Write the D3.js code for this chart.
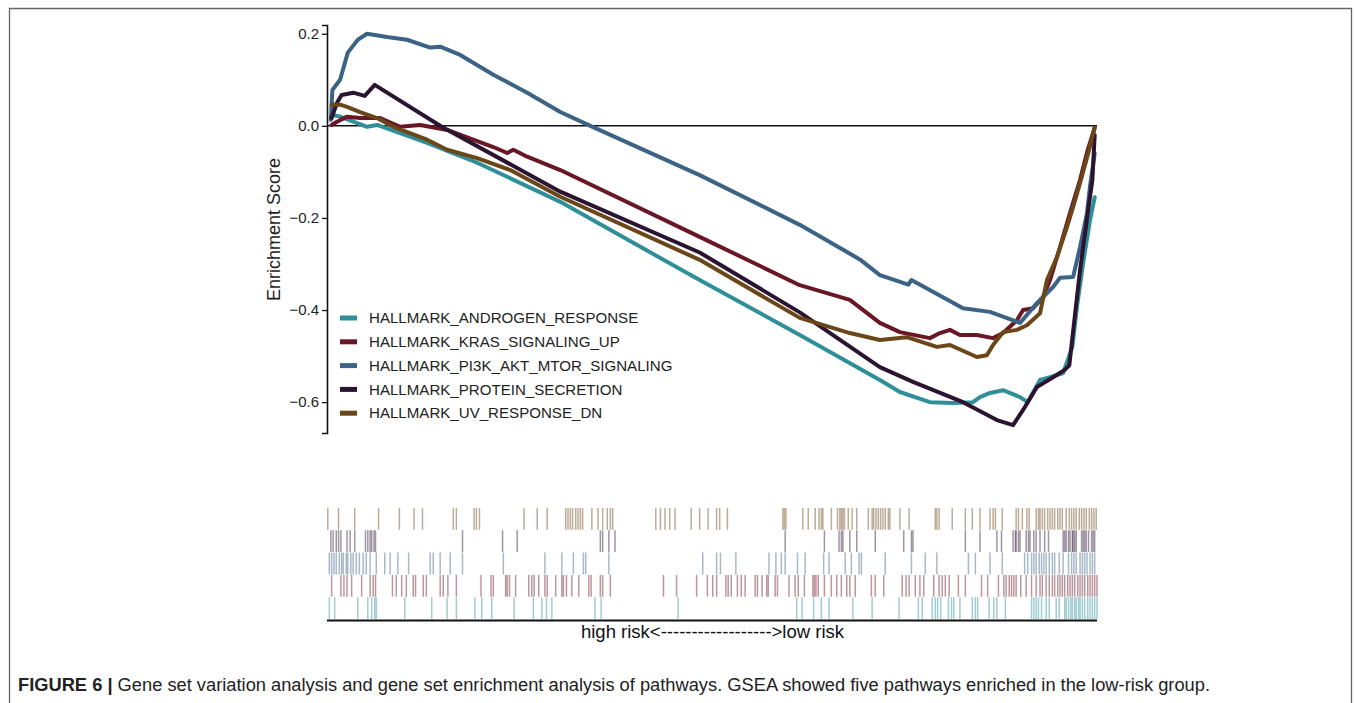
<!DOCTYPE html>
<html>
<head>
<meta charset="utf-8">
<script src="https://cdn.jsdelivr.net/npm/d3@7"></script>
<style>
  body { margin: 0; background: #fff; }
  svg { display: block; }
  text { font-family: "Liberation Sans", Arial, Helvetica, sans-serif; }
</style>
</head>
<body>
<svg id="chart" width="1355" height="703"></svg>
<script>
// Gene sets, in legend order
const pathways = [
  "HALLMARK_ANDROGEN_RESPONSE",
  "HALLMARK_KRAS_SIGNALING_UP",
  "HALLMARK_PI3K_AKT_MTOR_SIGNALING",
  "HALLMARK_PROTEIN_SECRETION",
  "HALLMARK_UV_RESPONSE_DN"
];
const pathwayColors = ["#2f8f99", "#6a1725", "#3c6385", "#2a1430", "#6b4618"];

const yTicks = [0.2, 0.0, -0.2, -0.4, -0.6];
const yLabel = "Enrichment Score";
const xLabel = "high risk<------------------>low risk";
const captionBold = "FIGURE 6 |";
const captionText = " Gene set variation analysis and gene set enrichment analysis of pathways. GSEA showed five pathways enriched in the low-risk group.";

// Running enrichment score: [position in ranked list (%), ES]
const androgenES = [[0.6,0.024],[1.7,0.02],[5.2,-0.002],[6.5,0.002],[13.0,-0.037],[19.5,-0.08],[30.3,-0.165],
  [48.4,-0.335],[61.4,-0.454],[71.8,-0.552],[74.4,-0.578],[78.3,-0.6],[81.3,-0.602],[83.9,-0.6],[84.8,-0.589],
  [86.1,-0.58],[87.8,-0.574],[90.0,-0.589],[91.0,-0.6],[92.6,-0.552],[93.9,-0.546],[95.6,-0.537],[96.8,-0.48],
  [97.4,-0.393],[98.2,-0.298],[99.1,-0.204],[99.7,-0.155]];
const krasES = [[0.6,0.002],[1.3,0.009],[2.6,0.02],[4.3,0.017],[6.9,0.017],[9.5,-0.002],[12.1,0.002],[15.6,-0.009],
  [21.6,-0.046],[23.4,-0.059],[24.2,-0.052],[26.0,-0.067],[30.3,-0.096],[48.4,-0.241],[61.4,-0.346],[67.9,-0.378],
  [71.8,-0.428],[74.4,-0.448],[78.3,-0.461],[79.6,-0.45],[80.9,-0.443],[82.2,-0.454],[84.4,-0.454],[86.5,-0.461],
  [87.8,-0.45],[89.6,-0.422],[90.4,-0.4],[91.7,-0.396],[93.0,-0.372],[93.9,-0.335],[95.2,-0.263],[96.5,-0.189],
  [97.8,-0.117],[98.8,-0.052],[99.7,-0.004]];
const pi3kES = [[0.5,0.013],[0.7,0.078],[1.7,0.1],[2.7,0.159],[4.0,0.187],[5.2,0.2],[7.8,0.193],[10.4,0.187],
  [13.4,0.17],[14.7,0.172],[17.3,0.154],[21.6,0.111],[26.0,0.072],[30.3,0.03],[34.2,0.0],[48.4,-0.107],
  [61.4,-0.215],[69.2,-0.29],[71.8,-0.324],[75.5,-0.345],[75.9,-0.335],[82.6,-0.396],[86.1,-0.404],[90.0,-0.428],
  [92.2,-0.385],[94.3,-0.35],[95.2,-0.33],[96.9,-0.328],[97.8,-0.263],[98.7,-0.19],[99.1,-0.13],[99.7,-0.06]];
const proteinES = [[0.6,0.017],[1.3,0.05],[1.9,0.067],[3.4,0.072],[4.9,0.065],[6.2,0.089],[14.9,-0.002],
  [30.3,-0.143],[48.4,-0.275],[61.4,-0.405],[71.8,-0.524],[76.1,-0.556],[82.6,-0.6],[87.0,-0.639],[89.1,-0.65],
  [90.4,-0.617],[92.2,-0.567],[94.3,-0.546],[95.8,-0.53],[96.4,-0.52],[97.8,-0.313],[98.8,-0.19],[99.4,-0.117],
  [99.7,-0.02]];
const uvES = [[0.6,0.046],[1.7,0.046],[2.6,0.041],[4.3,0.03],[6.5,0.017],[8.6,-0.002],[13.0,-0.03],[15.6,-0.052],
  [19.5,-0.07],[23.8,-0.096],[30.3,-0.154],[48.4,-0.291],[61.4,-0.417],[67.9,-0.45],[71.8,-0.465],[75.3,-0.459],
  [79.2,-0.48],[80.9,-0.476],[84.4,-0.502],[85.7,-0.498],[86.5,-0.476],[87.8,-0.448],[89.6,-0.443],[90.9,-0.433],
  [92.6,-0.407],[93.5,-0.335],[94.8,-0.285],[96.1,-0.22],[96.9,-0.176],[97.8,-0.124],[98.8,-0.063],[99.7,-0.004]];

// Positions (%) of gene-set members in the ranked list
const androgenHits = [0.3,1.0,4.0,5.3,5.8,6.2,6.4,10.1,13.6,15.6,16.8,19.2,20.1,21.4,24.3,26.8,27.9,28.5,29.2,34.8,
  35.6,45.6,61.0,61.7,63.2,64.2,65.2,68.3,70.8,74.3,76.8,77.3,78.6,79.0,79.3,79.7,80.7,81.1,81.4,82.2,83.8,84.2,
  84.5,86.0,86.6,87.0,88.1,91.5,91.8,92.1,92.4,92.8,93.4,93.8,94.7,95.1,95.8,96.0,96.3,96.6,96.8,97.1,97.3,97.6,
  97.8,98.1,98.4,98.8,99.1,99.4,99.7,100];
const krasHits = [0.6,1.8,2.2,2.6,3.2,4.5,5.6,6.0,6.3,8.5,9.0,9.7,10.3,11.2,11.5,12.5,12.9,14.7,15.1,15.7,16.8,
  20.0,21.3,21.6,23.2,23.4,23.7,24.5,26.2,26.6,26.9,27.5,28.3,28.6,29.7,30.5,30.7,31.1,31.8,32.7,34.0,34.3,35.5,
  35.8,36.8,43.7,45.4,48.0,49.4,50.1,50.6,51.8,52.1,52.5,53.3,53.8,54.3,55.6,55.9,56.5,57.1,57.3,58.2,58.5,60.0,
  60.8,61.2,62.0,63.1,63.3,63.5,63.8,64.6,65.5,66.2,66.8,67.5,67.9,68.6,70.7,71.2,72.3,74.7,75.2,75.6,76.4,77.0,
  77.5,78.8,79.5,79.9,80.3,80.8,82.0,82.9,85.0,85.8,87.2,87.9,88.2,88.6,88.9,89.2,89.5,90.1,90.8,91.5,92.1,92.6,
  92.9,93.4,93.8,94.2,94.5,94.9,95.2,95.5,95.8,96.2,96.5,96.8,97.1,97.5,97.8,98.1,98.4,98.8,99.1,99.4,99.7,100];
const pi3kHits = [0.3,0.6,0.9,1.2,1.6,1.9,2.1,2.5,2.7,3.1,3.4,3.8,4.2,4.7,5.1,5.6,6.4,7.5,8.2,9.2,10.6,13.4,13.8,
  14.7,16.0,17.6,22.9,28.3,30.5,32.0,33.3,33.6,36.6,48.8,50.6,51.1,53.1,57.4,58.3,59.0,59.5,61.1,62.1,64.5,65.2,
  67.3,68.1,69.1,69.4,72.5,75.9,77.7,79.2,83.3,84.2,86.1,87.7,90.6,91.0,91.5,91.8,92.1,92.5,92.8,93.1,93.4,93.8,
  94.2,94.5,95.1,95.6,96.3,96.7,97.0,97.3,97.8,98.1,98.4,98.7,99.1,99.4,99.7];
const proteinHits = [0.5,0.8,1.2,1.5,1.8,2.6,3.0,3.6,5.0,5.3,5.6,5.8,6.1,6.3,17.6,22.8,24.7,35.5,35.8,36.6,37.4,
  59.5,64.6,66.5,66.8,67.0,67.9,68.8,71.2,74.9,75.9,76.1,82.9,84.8,87.0,87.6,89.1,89.4,89.5,89.8,90.0,90.8,91.1,
  91.3,91.8,92.1,92.6,93.2,93.7,95.6,95.8,96.0,96.3,96.5,96.8,96.9,97.1,97.3,98.0,98.2,98.4,98.6,98.9,99.3,99.5,99.7];
const uvHits = [0.1,1.5,3.6,6.7,9.4,11.3,12.4,16.4,16.8,19.1,19.4,19.8,25.6,27.3,28.6,31.0,31.3,31.6,31.9,32.3,32.6,
  32.9,33.2,34.4,35.2,35.8,36.4,36.8,37.1,42.7,43.3,43.9,44.5,45.2,47.3,48.4,49.5,50.6,51.0,52.0,59.2,59.4,59.6,
  61.8,62.5,63.4,63.9,64.2,64.4,65.5,66.3,66.6,66.8,67.0,67.2,67.7,68.2,68.8,70.3,70.8,71.0,71.3,71.6,71.9,72.2,
  72.5,72.9,73.1,74.4,75.6,79.0,79.2,79.5,81.2,82.9,83.8,84.8,86.1,86.5,86.8,87.7,89.5,89.8,90.3,90.9,91.2,92.1,
  92.4,92.6,92.9,93.2,93.6,93.9,94.2,94.5,94.9,95.2,95.5,96.0,96.4,96.7,97.0,97.3,97.7,98.0,98.3,98.6,99.0,99.3,
  99.6,99.9];

const esSeries = [androgenES, krasES, pi3kES, proteinES, uvES];
const hitSeries = [androgenHits, krasHits, pi3kHits, proteinHits, uvHits];

const svg = d3.select("#chart");

// Figure frame
svg.append("path")
  .attr("d", "M9.5,710 V8.5 H1351.5 V710")
  .attr("fill", "none").attr("stroke", "#666").attr("stroke-width", 1.3);

// Scales
const x = d3.scaleLinear().domain([0, 100]).range([327, 1097]);
const y = d3.scaleLinear().domain([-0.667, 0.219]).range([433, 25]);

// Y axis
const yAxis = svg.append("g")
  .attr("transform", `translate(${x(0)},0)`)
  .call(d3.axisLeft(y).tickValues(yTicks).tickSize(5).tickPadding(3).tickFormat(d3.format(".1f")));
yAxis.select(".domain").attr("stroke", "#111").attr("stroke-width", 1.6);
yAxis.selectAll(".tick line").attr("stroke", "#111").attr("stroke-width", 1.3);
yAxis.selectAll(".tick text").attr("font-size", 15).attr("fill", "#222")
  .attr("font-family", "'Liberation Sans', Arial, sans-serif");

svg.append("text")
  .attr("transform", `translate(280,${y(-0.225)}) rotate(-90)`)
  .attr("text-anchor", "middle")
  .attr("font-size", 18).attr("fill", "#222")
  .text(yLabel);

// Zero reference line
svg.append("line")
  .attr("x1", x(0)).attr("x2", x(100))
  .attr("y1", y(0)).attr("y2", y(0))
  .attr("stroke", "#111").attr("stroke-width", 1.5);

// Running enrichment score curves
const line = d3.line().x(d => x(d[0])).y(d => y(d[1]));
svg.append("g").selectAll("path")
  .data(esSeries)
  .join("path")
  .attr("d", line)
  .attr("fill", "none")
  .attr("stroke", (d, i) => pathwayColors[i])
  .attr("stroke-width", 4)
  .attr("stroke-linejoin", "round")
  .attr("stroke-linecap", "round");

// Legend
const legend = svg.append("g");
pathways.forEach((name, i) => {
  const ly = 318 + i * 23.8;
  legend.append("line")
    .attr("x1", 340).attr("x2", 357).attr("y1", ly).attr("y2", ly)
    .attr("stroke", pathwayColors[i]).attr("stroke-width", 5);
  legend.append("text")
    .attr("x", 369).attr("y", ly).attr("dy", "0.35em")
    .attr("font-size", 15.1).attr("fill", "#222")
    .text(name);
});

// Hit rug: one row per gene set, top row is the last set
const rowTop = 508, rowH = 22.3;
const rug = svg.append("g");
hitSeries.forEach((hits, i) => {
  const row = pathways.length - 1 - i;
  const y0 = rowTop + row * rowH;
  rug.append("g").selectAll("line")
    .data(hits)
    .join("line")
    .attr("x1", d => x(d)).attr("x2", d => x(d))
    .attr("y1", y0).attr("y2", y0 + rowH - 0.5)
    .attr("stroke", pathwayColors[i])
    .attr("stroke-opacity", 0.45)
    .attr("stroke-width", 1.5);
});

// Bottom axis line of the rug
svg.append("line")
  .attr("x1", x(0)).attr("x2", x(100))
  .attr("y1", 620.5).attr("y2", 620.5)
  .attr("stroke", "#111").attr("stroke-width", 2.2);

svg.append("text")
  .attr("x", (x(0) + x(100)) / 2 + 0.5).attr("y", 638)
  .attr("text-anchor", "middle")
  .attr("font-size", 18.5).attr("fill", "#111")
  .text(xLabel);

// Caption
const cap = svg.append("text")
  .attr("x", 18).attr("y", 691)
  .attr("font-size", 18.3).attr("fill", "#222");
cap.append("tspan").attr("font-weight", "bold").text(captionBold);
cap.append("tspan").text(captionText);
</script>
</body>
</html>
